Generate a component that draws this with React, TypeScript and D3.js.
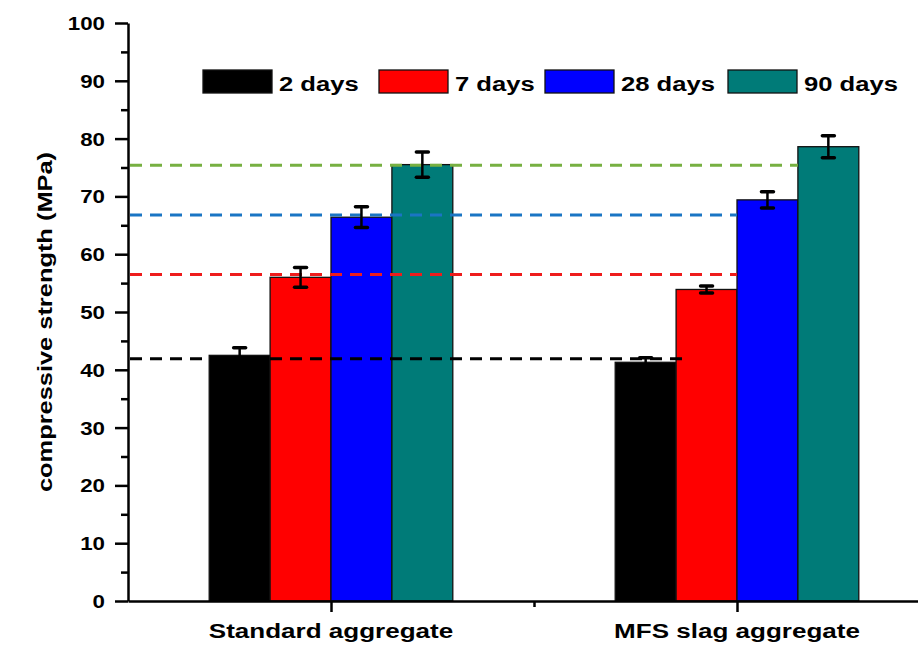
import React, { useRef, useEffect } from "react";
import * as d3 from "d3";

const categories = ["Standard aggregate", "MFS slag aggregate"];
const seriesNames = ["2 days", "7 days", "28 days", "90 days"];
const seriesColors = ["#000000", "#ff0000", "#0000ff", "#007b78"];

// compressive strength (MPa) per category
const days2 = [42.5, 41.3];
const days7 = [56.0, 53.9];
const days28 = [66.4, 69.4];
const days90 = [75.5, 78.6];

// error bar half-lengths
const err2 = [1.3, 0.8];
const err7 = [1.7, 0.6];
const err28 = [1.8, 1.4];
const err90 = [2.2, 1.9];

// dashed reference levels and where (in category units) they stop
const refLevels = [41.9, 56.5, 66.8, 75.4];
const refEnds = [1.87, 2.0, 2.0, 2.15];
const refColors = ["#000000", "#ee1c1c", "#1a75c4", "#77b041"];

const yTicks = [0, 10, 20, 30, 40, 50, 60, 70, 80, 90, 100];
const yMinorTicks = [5, 15, 25, 35, 45, 55, 65, 75, 85, 95];

const App = () => {
  const svgRef = useRef(null);

  useEffect(() => {
    const svg = d3.select(svgRef.current);
    svg.selectAll("*").remove();

    const width = 918;
    const height = 652;
    const font = "'Liberation Sans', Arial, sans-serif";
    const stretch = 1.24;

    const x = d3.scaleLinear().domain([0.5, 2.5]).range([128, 940]);
    const y = d3.scaleLinear().domain([0, 100]).range([601, 23]);
    const barW = 0.15;

    const values = [days2, days7, days28, days90];
    const errors = [err2, err7, err28, err90];

    svg.append("rect").attr("width", width).attr("height", height).attr("fill", "#fff");

    // Bars
    values.forEach((vals, si) => {
      svg
        .append("g")
        .selectAll("rect")
        .data(vals)
        .enter()
        .append("rect")
        .attr("x", (d, ci) => x(ci + 1 + (si - 2) * barW))
        .attr("y", (d) => y(d))
        .attr("width", x(1 + barW) - x(1))
        .attr("height", (d) => y(0) - y(d))
        .attr("fill", seriesColors[si])
        .attr("stroke", "#111")
        .attr("stroke-width", 1.3);
    });

    // Dashed reference lines
    refLevels.forEach((lv, i) => {
      svg
        .append("line")
        .attr("x1", x(0.5) + 2)
        .attr("x2", x(refEnds[i]))
        .attr("y1", y(lv))
        .attr("y2", y(lv))
        .attr("stroke", refColors[i])
        .attr("stroke-width", 3)
        .attr("stroke-dasharray", "12,8");
    });

    // Error bars
    values.forEach((vals, si) => {
      vals.forEach((v, ci) => {
        const cx = x(ci + 1 + (si - 1.5) * barW);
        const e = errors[si][ci];
        const g = svg.append("g").attr("stroke", "#000");
        g.append("line")
          .attr("x1", cx).attr("x2", cx)
          .attr("y1", y(v - e)).attr("y2", y(v + e))
          .attr("stroke-width", 2.5);
        [v - e, v + e].forEach((t) => {
          g.append("line")
            .attr("x1", cx - 6).attr("x2", cx + 6)
            .attr("y1", y(t)).attr("y2", y(t))
            .attr("stroke-width", 3.5)
            .attr("stroke-linecap", "round");
        });
      });
    });

    // Y axis
    const yAxis = svg
      .append("g")
      .attr("transform", `translate(${x(0.5)},0)`)
      .call(d3.axisLeft(y).tickValues(yTicks).tickSize(13).tickSizeOuter(0).tickPadding(0));
    svg
      .append("g")
      .attr("transform", `translate(${x(0.5)},0)`)
      .call(d3.axisLeft(y).tickValues(yMinorTicks).tickSize(7).tickSizeOuter(0).tickFormat(() => ""))
      .call((g) => g.select(".domain").remove());
    yAxis
      .selectAll("text")
      .attr("x", -23 / stretch)
      .attr("dy", "0.36em")
      .attr("transform", `scale(${stretch},1)`)
      .attr("font-family", font)
      .attr("font-weight", "bold")
      .attr("font-size", 18)
      .attr("fill", "#000");

    // X axis
    svg
      .append("g")
      .attr("transform", `translate(0,${y(0)})`)
      .call(d3.axisBottom(x).tickValues([1, 2]).tickSize(11).tickSizeOuter(0).tickFormat(() => ""));
    svg
      .append("g")
      .attr("transform", `translate(0,${y(0)})`)
      .call(d3.axisBottom(x).tickValues([1.5]).tickSize(6).tickSizeOuter(0).tickFormat(() => ""))
      .call((g) => g.select(".domain").remove());

    svg.selectAll(".domain").attr("stroke", "#000").attr("stroke-width", 2.5);
    svg.selectAll(".tick line").attr("stroke", "#000").attr("stroke-width", 2.5);

    // Category labels
    categories.forEach((c, i) => {
      svg
        .append("text")
        .attr("transform", `translate(${x(i + 1)},638) scale(${stretch},1)`)
        .attr("text-anchor", "middle")
        .attr("font-family", font)
        .attr("font-weight", "bold")
        .attr("font-size", 21)
        .text(c);
    });

    // Y axis label
    svg
      .append("text")
      .attr("transform", `translate(52,322) rotate(-90) scale(1.21,1)`)
      .attr("text-anchor", "middle")
      .attr("font-family", font)
      .attr("font-weight", "bold")
      .attr("font-size", 21)
      .text("compressive strength (MPa)");

    // Legend
    const legendX = [203, 379, 545, 728];
    seriesNames.forEach((name, i) => {
      const g = svg.append("g").attr("transform", `translate(${legendX[i]},70)`);
      g.append("rect")
        .attr("width", 69)
        .attr("height", 23)
        .attr("fill", seriesColors[i])
        .attr("stroke", "#111")
        .attr("stroke-width", 1.3);
      g.append("text")
        .attr("transform", `translate(76,21) scale(1.22,1)`)
        .attr("font-family", font)
        .attr("font-weight", "bold")
        .attr("font-size", 21)
        .text(name);
    });
  }, []);

  return (
    <svg
      ref={svgRef}
      width={918}
      height={652}
      style={{ position: "absolute", left: 0, top: 0, display: "block" }}
    ></svg>
  );
};

export default App;
